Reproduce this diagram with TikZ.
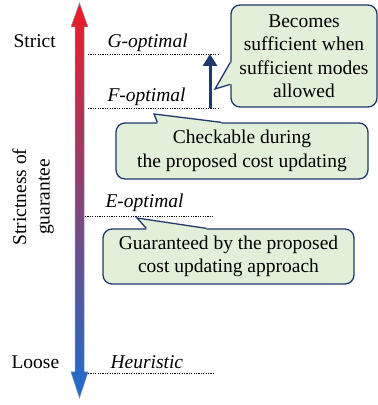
\documentclass[tikz,border=0pt]{standalone}
\usepackage{fontspec}
\setmainfont{Liberation Serif}
\usepackage{tikz}
\usetikzlibrary{calc}
\usetikzlibrary{arrows.meta}
\usetikzlibrary{positioning}
\definecolor{navy}{RGB}{32,56,108}
\definecolor{boxgreen}{RGB}{226,240,217}
\definecolor{arrred}{RGB}{240,26,36}
\definecolor{arrmid}{RGB}{190,70,135}
\definecolor{arrblue}{RGB}{28,110,205}
\definecolor{arredge}{RGB}{130,145,170}
\newcommand{\figfont}{\fontsize{19.5}{23.5}\selectfont}
\tikzset{levelline/.style={dash pattern=on 1.2pt off 1.2pt,line width=0.8pt}}
\tikzset{lvlname/.style={anchor=base west,font=\figfont\itshape}}
\tikzset{callbox/.style={draw=navy,fill=boxgreen,line width=1.3pt,rounded corners=9pt,align=center,inner sep=0pt}}
\tikzset{callptr/.style={draw=navy,line width=1.3pt,line join=miter}}

\begin{document}
\begin{tikzpicture}[x=1pt,y=1pt,every node/.style={font=\figfont}]
\useasboundingbox (0,0) rectangle (378,405);

% strictness scale
\shadedraw[top color=arrred,middle color=arrmid,bottom color=arrblue,draw=arredge,line width=0.5pt]
  (79.5,402) -- (88,378) -- (84,378) -- (84,33) -- (88,33) -- (79.5,7)
  -- (71,33) -- (75,33) -- (75,378) -- (71,378) -- cycle;

\node[anchor=base west] (strict) at (10,357) {Strict};
\node[anchor=base west] (loose) at (8,37) {Loose};
\node[rotate=90,align=center] (axis) at (33,208) {Strictness of\\guarantee};

\node[lvlname] (Gopt) at (104,357) {G-optimal};
\node[lvlname] (Fopt) at (104,303) {F-optimal};
\node[lvlname] (Eopt) at (102,197) {E-optimal};
\node[lvlname] (Heur) at (107,37) {Heuristic};

\draw[levelline] (88,351) coordinate (Gl) -- (220,351) coordinate (Gr);
\draw[levelline] (88,297) coordinate (Fl) -- (220,297) coordinate (Fr);
\draw[levelline] (85,189) coordinate (El) -- (213,189) coordinate (Er);
\draw[levelline] (88,32) coordinate (Hl) -- (213,32) coordinate (Hr);

\draw[navy,line width=3pt,-{Triangle[width=14pt,length=12pt]}] ($(Fr)+(-10,0)$) -- ($(Gr)+(-10,0)$);

% callouts
\node[callbox,minimum width=146pt,minimum height=102pt] (suff) at (304,349)
  {Becomes\\sufficient when\\sufficient modes\\allowed};
\coordinate (suffTip) at (215,316);
\fill[boxgreen] (suffTip) -- ($(suff.north west)+(0,-58)$) -- ($(suff.north west)+(2,-58)$)
  -- ($(suff.north west)+(2,-80)$) -- ($(suff.north west)+(0,-80)$) -- cycle;
\draw[callptr] ($(suff.north west)+(0,-58)$) -- (suffTip) -- ($(suff.north west)+(0,-80)$);

\node[callbox,minimum width=252pt,minimum height=56pt] (check) at (242,254)
  {Checkable during\\the proposed cost updating};
\coordinate (checkTip) at (154,291);
\fill[boxgreen] (checkTip) -- ($(check.north west)+(42,0)$) -- ($(check.north west)+(42,-2)$)
  -- ($(check.north west)+(106,-2)$) -- ($(check.north west)+(106,0)$) -- cycle;
\draw[callptr] ($(check.north west)+(42,0)$) -- (checkTip) -- ($(check.north west)+(106,0)$);

\node[callbox,minimum width=251pt,minimum height=55pt] (guar) at (228.5,148.5)
  {Guaranteed by the proposed\\cost updating approach};
\coordinate (guarTip) at (137,187);
\fill[boxgreen] (guarTip) -- ($(guar.north west)+(44,0)$) -- ($(guar.north west)+(44,-2)$)
  -- ($(guar.north west)+(104,-2)$) -- ($(guar.north west)+(104,0)$) -- cycle;
\draw[callptr] ($(guar.north west)+(44,0)$) -- (guarTip) -- ($(guar.north west)+(104,0)$);

\end{tikzpicture}
\end{document}
